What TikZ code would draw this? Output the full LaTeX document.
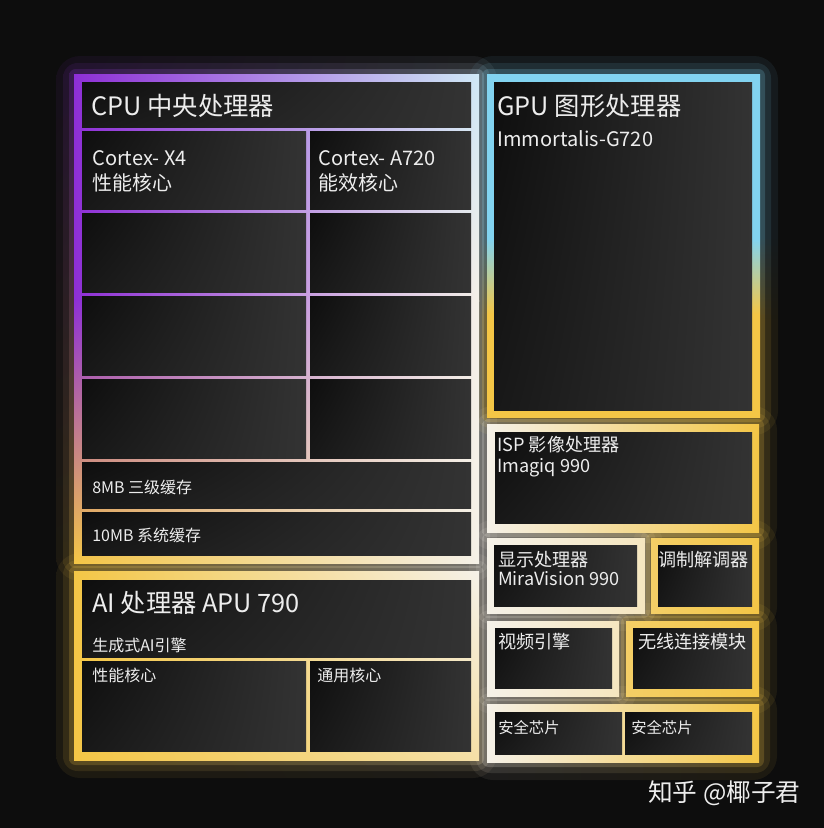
\documentclass[tikz,border=0pt]{standalone}
\usepackage{fontspec}
\setmainfont{Noto Sans CJK SC}
\usetikzlibrary{shadings}
\definecolor{bgdark}{HTML}{0D0D0D}
\definecolor{ink}{HTML}{EDEDED}
\definecolor{cpuviolet}{HTML}{8E2FD6}
\definecolor{icewhite}{HTML}{CFE8F6}
\definecolor{iceblue}{HTML}{82D3F0}
\definecolor{gold}{HTML}{F4C646}
\definecolor{pale}{HTML}{F5F1E8}
\definecolor{cellA}{HTML}{0E0E0E}
\definecolor{cellB}{HTML}{181818}
\definecolor{cellC}{HTML}{333333}
\pgfdeclareverticalshading{gpuband}{100bp}{color(0bp)=(gold); color(40bp)=(gold); color(51bp)=(iceblue); color(100bp)=(iceblue)}

\begin{document}
\begin{tikzpicture}[x=0.75pt,y=-0.75pt,
  cpuframe/.style={shading=bilinear interpolation,upper left=cpuviolet,upper right=icewhite,lower left=gold,lower right=pale},
  cputop/.style={shading=bilinear interpolation,upper left=cpuviolet,upper right=icewhite,lower left=cpuviolet,lower right=pale},
  cpulow/.style={shading=bilinear interpolation,upper left=cpuviolet,upper right=pale,lower left=gold,lower right=pale},
  gpuframe/.style={shading=gpuband},
  apuframe/.style={shading=bilinear interpolation,upper left=gold,upper right=pale,lower left=gold,lower right=pale!60!gold},
  mixframe/.style={shading=bilinear interpolation,upper left=pale,upper right=gold,lower left=pale,lower right=gold},
  whiteframe/.style={shading=bilinear interpolation,upper left=pale,upper right=pale!75!gold,lower left=pale,lower right=pale!75!gold},
  goldframe/.style={shading=bilinear interpolation,upper left=gold!80!pale,upper right=gold,lower left=gold!80!pale,lower right=gold},
  cell/.style={shading=bilinear interpolation,upper left=cellA,upper right=cellC,lower left=cellB,lower right=cellC},
  txt/.style={inner sep=0pt,anchor=base west,text=ink},
  big/.style={txt,font=\fontsize{19pt}{21pt}\selectfont},
  mid/.style={txt,font=\fontsize{15pt}{17pt}\selectfont},
  sub/.style={txt,font=\fontsize{13.6pt}{15pt}\selectfont},
  small/.style={txt,font=\fontsize{12pt}{14pt}\selectfont}]
\useasboundingbox (0,0) rectangle (824,828);
\fill[bgdark] (0,0) rectangle (824,828);

\foreach \g/\o in {18/.07,11/.11,5/.2}{
  \shade[cpuframe,opacity=\o,rounded corners=\g] (74-\g,74-\g) rectangle (479+\g,563+\g);
  \shade[apuframe,opacity=\o,rounded corners=\g] (74-\g,571-\g) rectangle (479+\g,760+\g);
  \shade[gpuframe,opacity=\o,rounded corners=\g] (487-\g,74-\g) rectangle (760+\g,417+\g);
  \shade[mixframe,opacity=\o,rounded corners=\g] (487-\g,424-\g) rectangle (759+\g,532+\g);
  \shade[whiteframe,opacity=\o,rounded corners=\g] (487-\g,538-\g) rectangle (645+\g,613+\g);
  \shade[goldframe,opacity=\o,rounded corners=\g] (651-\g,538-\g) rectangle (759+\g,613+\g);
  \shade[whiteframe,opacity=\o,rounded corners=\g] (487-\g,621-\g) rectangle (619+\g,696+\g);
  \shade[goldframe,opacity=\o,rounded corners=\g] (626-\g,621-\g) rectangle (759+\g,696+\g);
  \shade[mixframe,opacity=\o,rounded corners=\g] (487-\g,704-\g) rectangle (759+\g,762+\g);
}

\shade[cputop] (74,74) rectangle (479,301);
\shade[cpulow] (74,300) rectangle (479,563);
\shade[apuframe] (74,571) rectangle (479,760);
\shade[gpuframe] (487,74) rectangle (760,417);
\shade[mixframe] (487,424) rectangle (759,532);
\shade[whiteframe] (487,538) rectangle (645,613);
\shade[goldframe] (651,538) rectangle (759,613);
\shade[whiteframe] (487,621) rectangle (619,696);
\shade[goldframe] (626,621) rectangle (759,696);
\shade[mixframe] (487,704) rectangle (759,762);

\foreach \a/\b/\c/\d in {82/82/471/127, 82/131/306/209, 310/131/471/209,
  82/213/306/292, 310/213/471/292, 82/296/306/375, 310/296/471/375,
  82/379/306/458, 310/379/471/458, 82/462/471/508, 82/512/471/555,
  82/580/471/657, 82/661/306/751, 310/661/471/751,
  494/82/752/410, 495/432/752/523, 494/545/637/606, 658/545/752/606,
  495/628/612/688, 633/628/752/688, 495/712/622/754, 625/712/752/754}
  \shade[cell] (\a,\b) rectangle (\c,\d);

\node[big] (cpu) at (91,115) {CPU 中央处理器};
\node[mid] (x4) at (92,165) {Cortex- X4};
\node[mid] (x4cn) at (92,190) {性能核心};
\node[mid] (a720) at (318,165) {Cortex- A720};
\node[mid] (a720cn) at (318,190) {能效核心};
\node[small] (l3) at (92,493) {8MB 三级缓存};
\node[small] (slc) at (92,541) {10MB 系统缓存};

\node[big] (apu) at (92,612) {AI 处理器 APU 790};
\node[small] (gen) at (92,651) {生成式AI引擎};
\node[small] (perf) at (92,681) {性能核心};
\node[small] (gen2) at (317,681) {通用核心};

\node[big] (gpu) at (497,115) {GPU 图形处理器};
\node[mid] (g720) at (497,146) {Immortalis-G720};
\node[sub] (isp) at (497,451) {ISP 影像处理器};
\node[sub] (imagiq) at (497,472) {Imagiq 990};
\node[sub] (disp) at (498,566) {显示处理器};
\node[sub] (mira) at (498,585) {MiraVision 990};
\node[sub] (modem) at (658,566) {调制解调器};
\node[sub] (video) at (498,648) {视频引擎};
\node[sub] (wifi) at (638,648) {无线连接模块};
\node[small,font=\fontsize{11.5pt}{13pt}\selectfont] (sec1) at (498,733) {安全芯片};
\node[small,font=\fontsize{11.5pt}{13pt}\selectfont] (sec2) at (631,733) {安全芯片};

\node[txt,font=\fontsize{18.5pt}{20pt}\selectfont] (mark) at (648,801) {知乎 @椰子君};
\end{tikzpicture}
\end{document}
